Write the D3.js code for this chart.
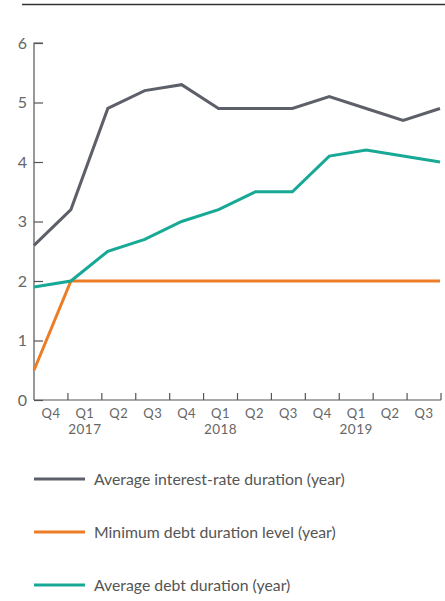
<!DOCTYPE html>
<html>
<head>
<meta charset="utf-8">
<script src="https://cdn.jsdelivr.net/npm/d3@7"></script>
<style>
  body { margin: 0; background: #fff; }
  svg text { font-family: Lato, "Open Sans", sans-serif; }
</style>
</head>
<body>
<div id="chart"></div>
<script>
const quarters = ["Q4", "Q1", "Q2", "Q3", "Q4", "Q1", "Q2", "Q3", "Q4", "Q1", "Q2", "Q3"];
const years = ["", "2017", "", "", "", "2018", "", "", "", "2019", "", ""];
const interestRateDuration = [2.6, 3.2, 4.9, 5.2, 5.3, 4.9, 4.9, 4.9, 5.1, 4.9, 4.7, 4.9];
const minDebtDuration = [0.5, 2.0, 2.0, 2.0, 2.0, 2.0, 2.0, 2.0, 2.0, 2.0, 2.0, 2.0];
const debtDuration = [1.9, 2.0, 2.5, 2.7, 3.0, 3.2, 3.5, 3.5, 4.1, 4.2, 4.1, 4.0];
const yTicks = [0, 1, 2, 3, 4, 5, 6];

const series = [
    { name: "Average interest-rate duration (year)", values: interestRateDuration, color: "#5d6068" },
    { name: "Minimum debt duration level (year)", values: minDebtDuration, color: "#ec7c25" },
    { name: "Average debt duration (year)", values: debtDuration, color: "#17a995" }
];

const W = 445, H = 601;
const plotLeft = 34, plotRight = 440, plotTop = 43, plotBottom = 400;

const svg = d3.select("#chart")
    .append("svg")
    .attr("width", W)
    .attr("height", H);

// rule at the top
svg.append("line")
    .attr("x1", 22).attr("x2", W)
    .attr("y1", 4.5).attr("y2", 4.5)
    .attr("stroke", "#333")
    .attr("stroke-width", 1.5);

const idx = d3.range(quarters.length);

const xPoint = d3.scalePoint().domain(idx).range([plotLeft, plotRight]);
const xBand = d3.scaleBand().domain(idx).range([plotLeft, plotRight + 1]);
const y = d3.scaleLinear().domain([0, 6]).range([plotBottom, plotTop]);

// y axis
const yAxis = svg.append("g")
    .attr("transform", `translate(${plotLeft},0)`)
    .call(d3.axisRight(y).tickValues(yTicks).tickSize(9).tickFormat(d3.format("d")));
yAxis.select(".domain").attr("stroke", "#555").attr("stroke-width", 1.2)
    .attr("d", `M9,${plotTop}H0V${plotBottom}`);
yAxis.selectAll(".tick line").attr("stroke", "#555").attr("stroke-width", 1.2);
yAxis.selectAll(".tick text")
    .attr("text-anchor", "end")
    .attr("x", -7)
    .attr("fill", "#666")
    .attr("font-size", "16px");

// x axis
const xAxis = svg.append("g")
    .attr("transform", `translate(0,${plotBottom})`)
    .call(d3.axisBottom(xBand).tickSize(0).tickFormat(i => quarters[i]));
xAxis.select(".domain").attr("stroke", "#555").attr("stroke-width", 1.2)
    .attr("d", `M${plotLeft},0H${plotRight + 1}`);
xAxis.selectAll(".tick text")
    .attr("y", 18)
    .attr("dy", 0)
    .attr("fill", "#666")
    .attr("font-size", "13px")
    .attr("letter-spacing", "0.5px");
xAxis.selectAll(".year")
    .data(idx.filter(i => years[i]))
    .join("text")
    .attr("class", "year")
    .attr("x", i => xBand(i) + xBand.bandwidth() / 2)
    .attr("y", 34)
    .attr("text-anchor", "middle")
    .attr("fill", "#666")
    .attr("font-size", "13.5px")
    .attr("letter-spacing", "0.5px")
    .text(i => years[i]);
// tick marks between quarters, pointing up
xAxis.selectAll(".qtick")
    .data(idx.slice(1).concat([quarters.length]))
    .join("line")
    .attr("class", "qtick")
    .attr("x1", i => i < quarters.length ? xBand(i) : plotRight + 1)
    .attr("x2", i => i < quarters.length ? xBand(i) : plotRight + 1)
    .attr("y1", 0).attr("y2", -7)
    .attr("stroke", "#555")
    .attr("stroke-width", 1.2);

// lines
const line = d3.line()
    .x((d, i) => xPoint(i))
    .y(d => y(d));

svg.selectAll(".series")
    .data(series)
    .join("path")
    .attr("class", "series")
    .attr("fill", "none")
    .attr("stroke", d => d.color)
    .attr("stroke-width", 3)
    .attr("d", d => line(d.values));

// legend
const legend = svg.selectAll(".legend")
    .data(series)
    .join("g")
    .attr("class", "legend")
    .attr("transform", (d, i) => `translate(34,${479 + i * 53})`);

legend.append("line")
    .attr("x1", 0).attr("x2", 51)
    .attr("stroke", d => d.color)
    .attr("stroke-width", 3);

legend.append("text")
    .attr("x", 60)
    .attr("dy", "0.35em")
    .attr("fill", "#555")
    .attr("font-size", "15.8px")
    .text(d => d.name);
</script>
</body>
</html>
